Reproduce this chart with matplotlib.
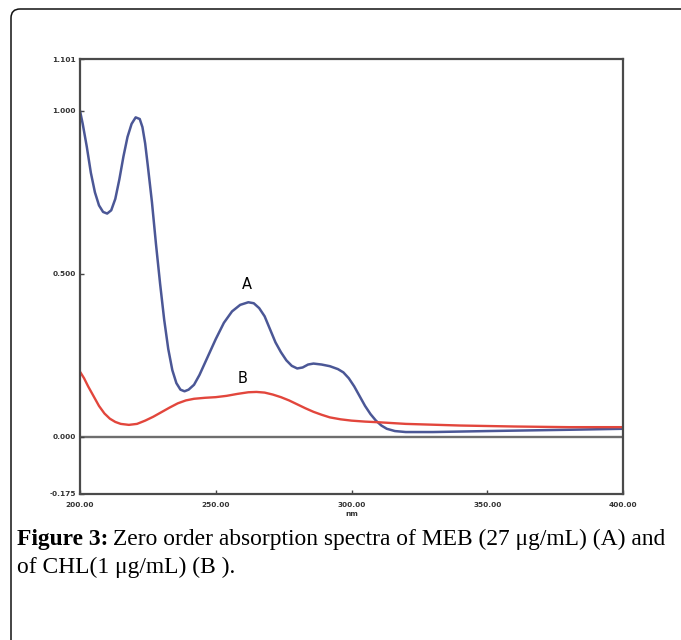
import matplotlib.pyplot as plt
from matplotlib.patches import FancyBboxPatch

plt.rcParams["font.family"] = "DejaVu Sans"

# Spectrum A (MEB), wavelength in nm vs absorbance
wl_a = [200, 201, 202.5, 204, 205.5, 207, 208.5, 210, 211.5, 213, 214.5, 216,
        217.5, 219, 220.5, 222, 223, 224, 225, 226.5, 228, 229.5, 231, 232.5,
        234, 235.5, 237, 238.5, 240, 242, 244, 247, 250, 253, 256, 259, 262,
        264, 266, 268, 270, 272, 274, 276, 278, 280, 282, 284, 286, 289, 292,
        295, 297, 299, 301, 303, 305, 307, 309, 311, 313, 316, 320, 330, 350,
        380, 400]
abs_a = [1.00, 0.96, 0.89, 0.81, 0.75, 0.71, 0.69, 0.685, 0.695, 0.73, 0.79,
         0.86, 0.92, 0.96, 0.98, 0.975, 0.95, 0.90, 0.83, 0.72, 0.59, 0.47,
         0.36, 0.27, 0.205, 0.165, 0.145, 0.14, 0.145, 0.16, 0.19, 0.245,
         0.30, 0.35, 0.385, 0.405, 0.413, 0.41, 0.395, 0.37, 0.33, 0.29, 0.26,
         0.235, 0.218, 0.21, 0.213, 0.222, 0.225, 0.222, 0.217, 0.208, 0.198,
         0.18, 0.155, 0.125, 0.095, 0.07, 0.05, 0.035, 0.025, 0.018, 0.015,
         0.015, 0.018, 0.022, 0.025]

# Spectrum B (CHL)
wl_b = [200, 201.5, 203, 205, 207, 209, 211, 213, 215, 218, 221, 224, 227,
        230, 233, 236, 239, 242, 246, 250, 254, 258, 262, 265, 268, 271, 274,
        277, 280, 283, 286, 289, 292, 296, 300, 305, 310, 320, 340, 360, 380,
        400]
abs_b = [0.20, 0.18, 0.155, 0.125, 0.095, 0.072, 0.056, 0.046, 0.04, 0.037,
         0.04, 0.05, 0.062, 0.076, 0.09, 0.103, 0.112, 0.117, 0.12, 0.122,
         0.126, 0.132, 0.137, 0.138, 0.136, 0.13, 0.122, 0.112, 0.10, 0.088,
         0.077, 0.068, 0.06, 0.054, 0.05, 0.047, 0.045, 0.04, 0.035, 0.032,
         0.03, 0.03]

x_ticks = [200, 250, 300, 350, 400]
x_labels = ["200.00", "250.00", "300.00", "350.00", "400.00"]
y_ticks = [-0.175, 0.0, 0.5, 1.0, 1.159]
y_labels = ["-0.175", "0.000", "0.500", "1.000", "1.101"]

fig = plt.figure(figsize=(6.81, 6.40), dpi=100)

# outer rounded frame (runs off the right and bottom edge)
frame = FancyBboxPatch((11, -30), 720, 640 - 9 + 30,
                       boxstyle="round,pad=0,rounding_size=9",
                       transform=None, facecolor="none",
                       edgecolor="#111111", linewidth=1.1)
fig.patches.append(frame)

ax = fig.add_axes([80 / 681, 1 - 494 / 640, 543 / 681, 435 / 640])
ax.plot(wl_a, abs_a, color="#4b5796", linewidth=1.8)
ax.plot(wl_b, abs_b, color="#e2463c", linewidth=1.7)
ax.axhline(0, color="#6e6e6e", linewidth=1.7, zorder=1)

ax.text(261.5, 0.468, "A", fontsize=10.5, ha="center", va="center")
ax.text(259.7, 0.178, "B", fontsize=10.5, ha="center", va="center")

ax.set_xlim(200, 400)
ax.set_ylim(-0.175, 1.159)
ax.set_xticks(x_ticks)
ax.set_xticklabels(x_labels)
ax.set_yticks(y_ticks)
ax.set_yticklabels(y_labels)
ax.tick_params(direction="in", length=3, width=1, colors="#444444",
               labelsize=5.3, labelcolor="#333333")
ax.tick_params(axis="x", pad=6)
ax.tick_params(axis="y", pad=3)
for lab in ax.get_xticklabels() + ax.get_yticklabels():
    lab.set_fontweight("bold")
for sp in ax.spines.values():
    sp.set_color("#4a4a4a")
    sp.set_linewidth(1.6)
ax.set_xlabel("nm", fontsize=5.3, fontweight="bold", color="#333333",
              labelpad=2)

# caption with bold lead-in
cap_font = "Liberation Serif"
cap_size = 16.9
fig.canvas.draw()
rend = fig.canvas.get_renderer()
t1 = fig.text(17 / 681, 1 - 539 / 640, "Figure 3:", fontsize=cap_size,
              family=cap_font, fontweight="bold", va="center")
bb = t1.get_window_extent(renderer=rend)
fig.text(bb.x1 / 681 + 5 / 681, 1 - 539 / 640,
         "Zero order absorption spectra of MEB (27 μg/mL) (A) and",
         fontsize=cap_size, family=cap_font, va="center")
fig.text(17 / 681, 1 - 567 / 640, "of CHL(1 μg/mL) (B ).", fontsize=cap_size,
         family=cap_font, va="center")

fig.savefig("out.png", dpi=100)
